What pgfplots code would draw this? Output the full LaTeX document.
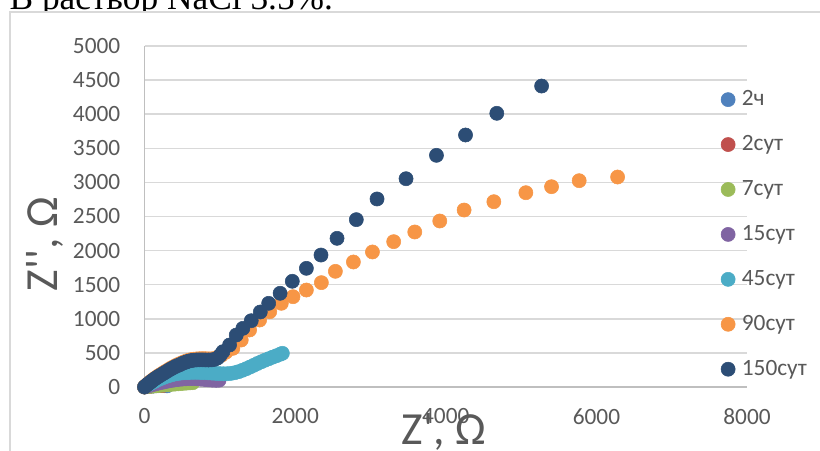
\documentclass[border=0pt]{standalone}
\usepackage{fontspec}
\setmainfont{Carlito}
\newfontfamily\serifont{Liberation Serif}
\usepackage{pgfplots}
\pgfplotsset{compat=1.18}
\definecolor{cA}{HTML}{4F81BD}
\definecolor{cB}{HTML}{C0504D}
\definecolor{cC}{HTML}{9BBB59}
\definecolor{cD}{HTML}{8064A2}
\definecolor{cE}{HTML}{4BACC6}
\definecolor{cF}{HTML}{F79646}
\definecolor{cG}{HTML}{2C4D75}
\definecolor{framegray}{HTML}{D9D9D9}
\definecolor{gridgray}{HTML}{D9D9D9}
\definecolor{axisgray}{HTML}{BFBFBF}
\definecolor{tickgray}{HTML}{595959}
\pgfplotsset{ser/.style={only marks, mark=*, mark size=5.3pt, color=#1, mark options={draw=#1, fill=#1}}}
\begin{document}
\begin{tikzpicture}
\useasboundingbox (0,0) rectangle (615pt,337.5pt);
\node[anchor=base west, inner sep=0pt] at (7pt,330.4pt) {\fontsize{26.5}{30}\selectfont\serifont В раствор NaCl 3.5\%.};
\filldraw[fill=white, draw=framegray, line width=1pt] (7.5pt,-20pt) rectangle (640pt,328.5pt);
\begin{axis}[
 at={(108.4pt,47.25pt)}, anchor=south west,
 scale only axis, width=451.9pt, height=255.75pt,
 xmin=0, xmax=8000, ymin=0, ymax=5000,
 xtick={0,2000,4000,6000,8000}, ytick={0,500,...,5000},
 scaled ticks=false,
 /pgf/number format/1000 sep={},
 /pgf/number format/assume math mode=true,
 axis lines*=left,
 axis line style={draw=axisgray, line width=1.1pt},
 major tick length=0pt,
 ymajorgrids, grid style={draw=gridgray, line width=1.1pt},
 clip=false,
 tick label style={font=\fontsize{17.5}{20}\selectfont, text=tickgray},
 yticklabel style={inner sep=0pt, xshift=-18pt},
 xticklabel style={inner sep=0pt, yshift=-16pt},
 xlabel={Z\textquotesingle, Ω},
 ylabel={Z\textquotesingle\textquotesingle, Ω},
 label style={font=\fontsize{34.5}{40}\selectfont, text=tickgray},
 xlabel style={at={(axis description cs:0.497,-0.170)}, anchor=base, inner sep=0pt},
 ylabel style={at={(axis description cs:-0.165,0.419)}, anchor=center, inner sep=0pt},
 legend style={at={(axis description cs:0.9564,0.8768)}, anchor=north west, draw=none, fill=none,
   inner sep=0pt, row sep=16.7pt, column sep=5pt,
   nodes={inner sep=0pt, text height=13pt, text depth=4pt, text=tickgray},
   font=\fontsize{17.5}{20}\selectfont, cells={anchor=west}},
 legend image code/.code={\draw[#1] plot coordinates {(0pt,0pt)};},
]
\addplot[ser=cA] table {
x y
0 0
30 5
60 9
90 12
120 15
150 17
180 19
210 20
240 20
270 19
300 17
};
\addlegendentry{2ч}
\addplot[ser=cB] table {
x y
0 0
30 6
60 11
90 15
120 18
150 20
180 21
210 21
240 20
};
\addlegendentry{2сут}
\addplot[ser=cC] table {
x y
0 0
40 5
80 10
120 14
160 18
200 22
250 27
300 32
350 37
400 42
450 47
500 52
550 56
600 60
640 63
};
\addlegendentry{7сут}
\addplot[ser=cD] table {
x y
0 0
30 10
60 20
100 32
150 46
200 60
250 72
300 84
350 94
400 103
450 110
500 116
550 120
600 122
650 122
700 120
750 116
800 110
850 104
900 100
950 98
990 100
};
\addlegendentry{15сут}
\addplot[ser=cE] table {
x y
0 0
30 20
60 40
90 58
120 75
150 92
180 108
210 122
240 136
270 148
300 160
330 170
360 180
390 188
420 195
450 200
480 205
510 208
540 210
570 212
600 213
650 214
700 214
750 212
800 210
850 207
900 203
950 199
1000 196
1050 194
1100 195
1150 200
1200 210
1250 225
1300 245
1350 268
1400 292
1450 318
1500 345
1550 370
1600 393
1650 415
1700 437
1750 458
1800 480
1830 494
};
\addlegendentry{45сут}
\addplot[ser=cF] table {
x y
0 0
20 22
40 42
60 60
80 78
100 96
125 117
150 137
175 156
200 174
230 195
260 216
290 236
320 256
350 276
380 294
410 312
440 328
470 342
500 357
530 371
560 383
590 393
620 401
650 407
690 412
730 415
770 416
810 415
850 413
890 413
930 418
970 435
1020 465
1080 510
1173 567
1284 689
1395 836
1528 982
1662 1104
1816 1227
1971 1324
2149 1422
2348 1530
2534 1696
2773 1833
3026 1980
3308 2131
3588 2273
3920 2434
4243 2595
4638 2717
5063 2849
5404 2937
5771 3025
6281 3079
};
\addlegendentry{90сут}
\addplot[ser=cG] table {
x y
0 0
20 20
40 38
60 55
80 72
100 90
125 110
150 130
175 148
200 165
230 185
260 205
290 225
320 245
350 265
380 283
410 300
440 315
470 328
500 345
530 358
560 370
590 380
620 388
650 393
690 397
730 398
770 398
810 397
850 396
890 398
930 405
970 425
1005 465
1041 518
1129 616
1218 762
1306 860
1417 972
1537 1100
1648 1227
1800 1374
1962 1550
2149 1740
2343 1935
2556 2180
2812 2454
3087 2757
3472 3054
3876 3397
4262 3695
4677 4013
5272 4413
};
\addlegendentry{150сут}
\end{axis}
\end{tikzpicture}
\end{document}
